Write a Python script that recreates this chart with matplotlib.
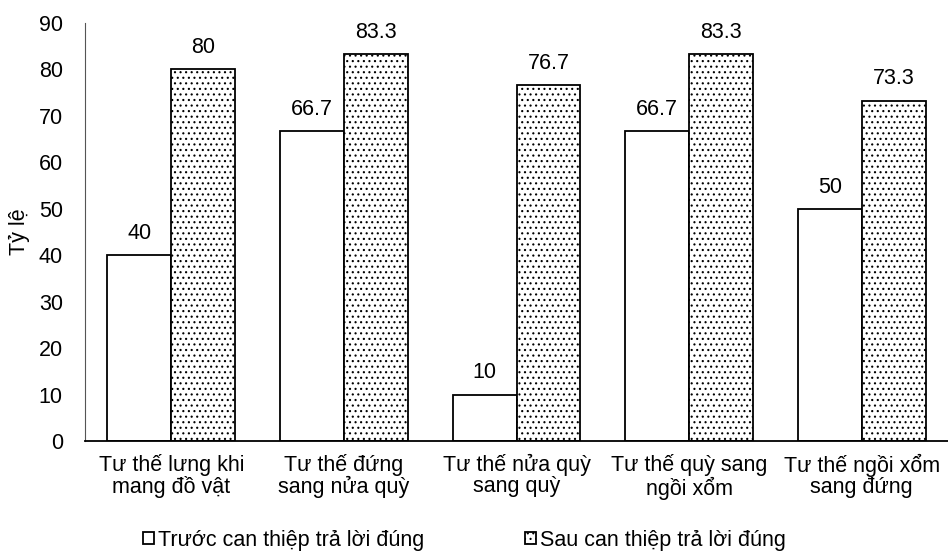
import matplotlib.pyplot as plt
import numpy as np

plt.rcParams['font.family'] = ['Liberation Sans', 'DejaVu Sans']
plt.rcParams['hatch.linewidth'] = 0.8

categories = ["Tư thế lưng khi\nmang đồ vật", "Tư thế đứng\nsang nửa quỳ",
              "Tư thế nửa quỳ\nsang quỳ", "Tư thế quỳ sang\nngồi xổm",
              "Tư thế ngồi xổm\nsang đứng"]
truoc = [40, 66.7, 10, 66.7, 50]
sau = [80, 83.3, 76.7, 83.3, 73.3]
labels_truoc = ["40", "66.7", "10", "66.7", "50"]
labels_sau = ["80", "83.3", "76.7", "83.3", "73.3"]

fs = 15.5
fig = plt.figure(figsize=(9.48, 5.54), dpi=100)
ax = fig.add_axes([85 / 948, 1 - 441 / 554, (948 - 85) / 948, 418 / 554])

x = np.arange(len(categories))
w = 0.37
b1 = ax.bar(x - w / 2, truoc, w, color='white', edgecolor='black', linewidth=1.3,
            label="Trước can thiệp trả lời đúng")
b2 = ax.bar(x + w / 2, sau, w, color='white', edgecolor='black', linewidth=1.3,
            hatch='...', label="Sau can thiệp trả lời đúng")

for bars, labs in ((b1, labels_truoc), (b2, labels_sau)):
    for rect, lab in zip(bars, labs):
        ax.annotate(lab, (rect.get_x() + rect.get_width() / 2, rect.get_height()),
                    xytext=(0, 8), textcoords='offset points',
                    ha='center', va='bottom', fontsize=fs)

ax.set_xlim(-0.5, len(categories) - 0.5)
ax.set_ylim(0, 90)
ax.set_yticks(range(0, 91, 10))
ax.set_xticks(x)
ax.set_xticklabels(categories, fontsize=fs, linespacing=1.05)
ax.tick_params(axis='y', length=0, labelsize=fs, pad=16)
ax.tick_params(axis='x', length=0, pad=9)
ax.spines['top'].set_visible(False)
ax.spines['right'].set_visible(False)
ax.spines['left'].set_color('#555555')
ax.spines['bottom'].set_linewidth(1.3)
ax.set_ylabel("Tỷ lệ", fontsize=fs, labelpad=6)

fig.legend(handles=[b1, b2], loc='center', bbox_to_anchor=(0.49, 0.025),
           ncol=2, frameon=False, fontsize=fs, handlelength=0.5, handleheight=0.5,
           handletextpad=0.2, columnspacing=4.7)

fig.savefig("out.png", dpi=100)
